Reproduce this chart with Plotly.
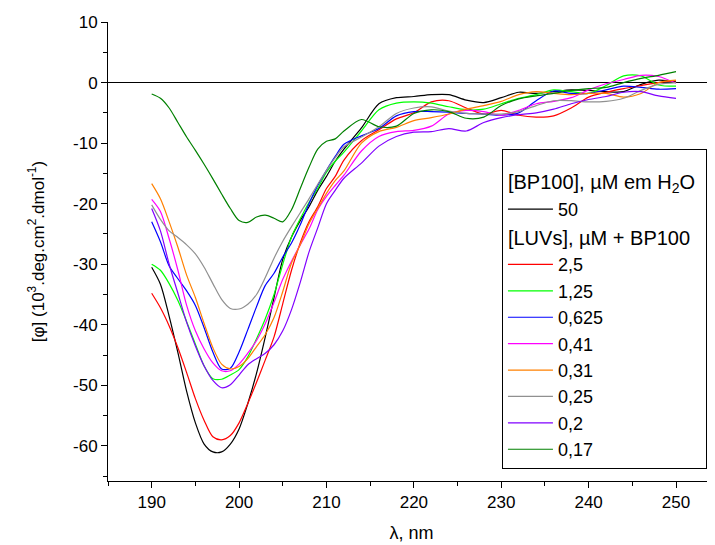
import plotly.graph_objects as go

wavelength = [190, 191, 192, 193, 194, 195, 196, 197, 198, 199, 200, 201, 202, 203, 204,
              205, 206, 207, 208, 209, 210, 211, 212, 214, 216, 218, 220, 222, 224, 226,
              228, 230, 232, 234, 236, 238, 240, 242, 244, 246, 248, 250]

bp100_50 = [-30.5, -33.3, -38.6, -44.6, -51.0, -56.2, -59.7, -61.0, -61.0, -59.7, -57.2, -53.0,
            -48.0, -42.0, -35.5, -29.2, -25.5, -22.8, -20.5, -17.8, -15.5, -13.0, -11.0, -7.5,
            -3.5, -2.5, -2.3, -2.0, -2.0, -2.9, -3.3, -2.5, -1.6, -1.8, -1.5, -1.2, -1.3,
            -1.5, -1.5, -0.3, 0.4, 0.1]

luv_2_5 = [-34.8, -37.2, -40.2, -43.8, -47.9, -52.2, -55.8, -58.5, -59.0, -58.3, -56.2, -53.0,
           -49.5, -45.8, -42.0, -36.5, -31.0, -26.5, -23.0, -20.5, -17.5, -15.5, -12.8, -9.6,
           -7.8, -6.0, -5.0, -3.2, -3.0, -4.2, -5.2, -4.6, -5.4, -5.7, -5.5, -4.2, -2.4,
           -1.6, -1.0, -0.5, 0.0, 0.3]

luv_1_25 = [-30.0, -31.0, -33.2, -36.0, -39.5, -43.2, -46.8, -48.9, -49.0, -48.3, -47.4, -45.3,
            -42.3, -39.0, -35.0, -30.0, -25.5, -22.5, -19.8, -17.5, -14.8, -13.0, -11.5, -8.0,
            -4.5, -3.4, -3.2, -3.4, -4.0, -4.5, -4.4, -3.5, -2.6, -2.0, -1.2, -1.5, -1.8,
            -0.5, 1.1, 1.1, -0.4, -0.6]

luv_0_625 = [-23.0, -26.3, -30.3, -32.4, -34.4, -36.8, -40.5, -44.5, -47.3, -47.2, -44.5, -40.8,
             -37.0, -33.5, -31.5, -28.8, -26.5, -23.5, -20.0, -17.0, -14.5, -12.2, -10.2, -8.8,
             -7.6, -5.5, -4.8, -4.8, -4.9, -5.1, -5.2, -5.4, -5.0, -3.0, -1.4, -1.8, -1.8,
             -1.2, -0.6, -0.8, -1.1, -1.0]

luv_0_41 = [-19.3, -21.3, -25.8, -31.0, -36.8, -41.0, -44.0, -46.3, -47.6, -47.6, -46.5, -44.7,
            -42.6, -39.8, -36.3, -32.5, -29.5, -26.8, -24.2, -21.0, -18.8, -17.0, -15.3, -11.3,
            -8.9, -8.1, -7.9, -7.2, -5.2, -4.6, -4.8, -5.4, -4.6, -3.5, -3.1, -2.5, -1.2,
            -0.2, 0.5, 1.2, 1.0, -0.1]

luv_0_31 = [-16.7, -19.2, -23.0, -27.2, -31.8, -35.5, -39.8, -43.8, -46.5, -47.3, -46.9, -45.6,
            -43.6, -41.6, -38.8, -34.5, -29.8, -26.8, -23.3, -20.8, -18.3, -16.2, -14.6, -10.0,
            -8.1, -7.4, -6.3, -5.8, -5.2, -4.4, -3.8, -3.1, -2.0, -1.5, -1.8, -2.0, -1.8,
            -1.8, -2.4, -1.8, 0.0, 0.4]

luv_0_25 = [-20.2, -22.6, -24.5, -25.6, -26.8, -28.3, -30.5, -33.2, -35.8, -37.3, -37.4, -36.6,
            -35.0, -32.2, -29.0, -26.2, -23.8, -21.5, -19.2, -16.8, -14.5, -12.4, -10.6, -9.0,
            -7.3, -5.1, -4.2, -4.0, -4.7, -5.1, -5.2, -5.2, -4.8, -3.8, -3.0, -3.0, -3.2,
            -3.1, -2.6, -1.3, -0.3, 0.0]

luv_0_2 = [-20.8, -24.5, -30.0, -34.8, -39.6, -43.5, -46.8, -49.2, -50.4, -49.9, -48.3, -46.6,
           -45.6, -44.7, -43.3, -41.0, -37.5, -33.0, -28.0, -24.0, -20.0, -17.8, -15.8, -13.3,
           -10.5, -8.9, -8.2, -8.1, -7.6, -8.0, -6.6, -5.8, -5.3, -5.0, -4.4, -3.5, -2.8,
           -2.3, -1.6, -1.5, -2.2, -2.6]

luv_0_17 = [-1.9, -2.6, -4.2, -6.6, -9.0, -11.2, -13.5, -15.9, -18.4, -20.8, -22.8, -23.1,
            -22.2, -21.9, -22.4, -23.0, -21.0, -17.5, -14.0, -11.0, -9.7, -9.3, -8.0, -6.1,
            -7.3, -7.2, -5.1, -4.5, -4.8, -5.9, -5.7, -3.8, -2.7, -2.2, -1.8, -1.3, -1.0,
            -0.8, 0.0, 0.7, 1.2, 1.8]

luv_labels = ["2,5", "1,25", "0,625", "0,41", "0,31", "0,25", "0,2", "0,17"]
luv_series = [luv_2_5, luv_1_25, luv_0_625, luv_0_41, luv_0_31, luv_0_25, luv_0_2, luv_0_17]
luv_colors = ["#FF0000", "#00FF00", "#0000FF", "#FF00FF", "#FF8000", "#909090", "#8000FF", "#008000"]

x_ticks = [190, 200, 210, 220, 230, 240, 250]
y_ticks = [-60, -50, -40, -30, -20, -10, 0, 10]
y_tick_text = ["-60", "-50", "-40", "-30", "-20", "-10", "0", "10"]

FONT = "Liberation Sans, Arial, sans-serif"
LEG = 18
GRP = 20

fig = go.Figure()
fig.add_trace(go.Scatter(
    x=wavelength, y=bp100_50, mode="lines", name="50",
    line=dict(color="#000000", width=1.2, shape="spline", smoothing=0.8),
    legendgroup="bp", legendgrouptitle=dict(text="[BP100], µM em H<sub>2</sub>O",
                                             font=dict(size=GRP, color="black", family=FONT)),
))
for lab, ys, col in zip(luv_labels, luv_series, luv_colors):
    fig.add_trace(go.Scatter(
        x=wavelength, y=ys, mode="lines", name=lab,
        line=dict(color=col, width=1.2, shape="spline", smoothing=0.8),
        legendgroup="luv", legendgrouptitle=dict(text="[LUVs], µM + BP100",
                                                  font=dict(size=GRP, color="black", family=FONT)),
    ))

fig.update_layout(
    width=715, height=545,
    margin=dict(l=100, r=8, t=14, b=72),
    paper_bgcolor="white", plot_bgcolor="white",
    font=dict(family=FONT, size=17, color="black"),
    showlegend=True,
    legend=dict(
        x=0.649, y=0.723, xanchor="left", yanchor="top",
        bordercolor="black", borderwidth=1, bgcolor="white",
        font=dict(size=LEG, family=FONT, color="black"),
        title=dict(text=" ", font=dict(size=9)),
        tracegroupgap=0, itemwidth=45,
    ),
    xaxis=dict(
        range=[185, 254.46], showgrid=False, zeroline=False, automargin=False,
        showline=True, linecolor="black", linewidth=1,
        ticks="outside", tickcolor="black", ticklen=6, tickwidth=1,
        tickmode="array", tickvals=x_ticks,
        minor=dict(tickvals=[185, 195, 205, 215, 225, 235, 245], ticks="outside", ticklen=4,
                   tickcolor="black", showgrid=False),
        tickfont=dict(size=17),
        title=dict(text="λ, nm", font=dict(size=18), standoff=14),
    ),
    yaxis=dict(
        range=[-65.8, 10], showgrid=False, automargin=False,
        zeroline=True, zerolinecolor="black", zerolinewidth=1,
        showline=True, linecolor="black", linewidth=1,
        ticks="outside", tickcolor="black", ticklen=6, tickwidth=1,
        tickmode="array", tickvals=y_ticks, ticktext=y_tick_text,
        minor=dict(tickvals=[-65, -55, -45, -35, -25, -15, -5, 5], ticks="outside", ticklen=4,
                   tickcolor="black", showgrid=False),
        tickfont=dict(size=17),
        title=dict(text="[φ] (10<sup>3</sup>.deg.cm<sup>2</sup>.dmol<sup>-1</sup>)",
                   font=dict(size=17), standoff=24),
    ),
)

fig.write_html("out.html")
